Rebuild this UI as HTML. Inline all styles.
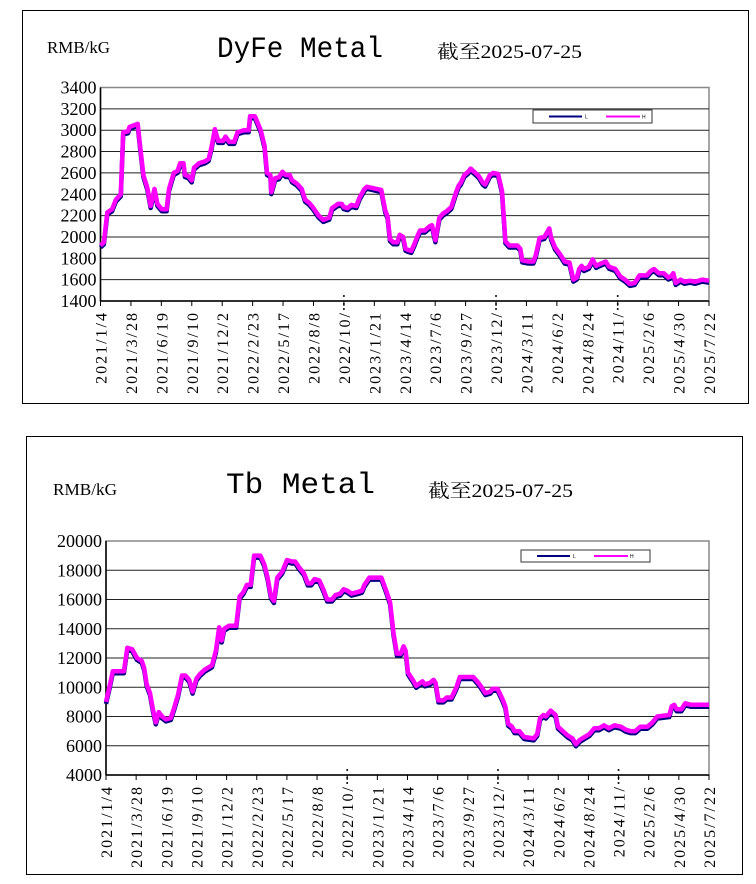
<!DOCTYPE html>
<html><head><meta charset="utf-8"><style>
html,body{margin:0;padding:0;background:#fff;width:756px;height:884px;overflow:hidden}
svg{display:block}
</style></head><body>
<svg id="s" width="756" height="884" xmlns="http://www.w3.org/2000/svg">
<rect x="0" y="0" width="756" height="884" fill="#fff"/>
<rect x="22.5" y="10.5" width="726" height="393" fill="#fff" stroke="#000" stroke-width="1"/>
<rect x="26.5" y="436.5" width="716" height="438" fill="#fff" stroke="#000" stroke-width="1"/>
<text x="47" y="53" font-family="Liberation Serif, serif" font-size="17" textLength="63" lengthAdjust="spacingAndGlyphs">RMB/kG</text>
<text x="217" y="57" font-family="Liberation Mono, monospace" font-size="30" textLength="166" lengthAdjust="spacingAndGlyphs">DyFe Metal</text>
<text x="437" y="58" font-family="Liberation Serif, 'Noto Serif CJK SC', serif" font-size="19" textLength="145" lengthAdjust="spacingAndGlyphs">截至2025-07-25</text>
<text x="53" y="495" font-family="Liberation Serif, serif" font-size="17" textLength="64" lengthAdjust="spacingAndGlyphs">RMB/kG</text>
<text x="226" y="493" font-family="Liberation Mono, monospace" font-size="30" textLength="149" lengthAdjust="spacingAndGlyphs">Tb Metal</text>
<text x="428" y="497" font-family="Liberation Serif, 'Noto Serif CJK SC', serif" font-size="19" textLength="145" lengthAdjust="spacingAndGlyphs">截至2025-07-25</text>
<g id="c1"></g><g id="c2"></g>
</svg>
<script>
var NS="http://www.w3.org/2000/svg";
var labels=["2021/1/4","2021/3/28","2021/6/19","2021/9/10","2021/12/2","2022/2/23","2022/5/17","2022/8/8","2022/10/","2023/1/21","2023/4/14","2023/7/6","2023/9/27","2023/12/","2024/3/11","2024/6/2","2024/8/24","2024/11/","2025/2/6","2025/4/30","2025/7/22"];
function el(p,t,a,txt){var e=document.createElementNS(NS,t);for(var k in a)e.setAttribute(k,a[k]);if(txt)e.textContent=txt;p.appendChild(e);return e;}
function chart(g,c){
 var x0=c.x0,x1=c.x1,yt=c.yt,yb=c.yb;
 function Y(v){return yb-(v-c.vmin)/(c.vmax-c.vmin)*(yb-yt);}
 el(g,"rect",{x:x0,y:yt,width:x1-x0,height:yb-yt,fill:"#fff",stroke:"#888","stroke-width":1.5});
 for(var v=c.vmin;v<=c.vmax;v+=c.step){var y=Y(v);
  if(v>c.vmin&&v<c.vmax)el(g,"line",{x1:x0,y1:y,x2:x1,y2:y,stroke:"#222","stroke-width":1});
  el(g,"text",{x:x0-4,y:y+6,"text-anchor":"end","font-family":"Liberation Serif, serif","font-size":18},String(v));}
 el(g,"line",{x1:x0,y1:yb,x2:x1,y2:yb,stroke:"#000","stroke-width":1.5});
 el(g,"line",{x1:x0,y1:yt,x2:x0,y2:yb,stroke:"#000","stroke-width":1.5});
 var dx=(x1-x0)/20;
 for(var i=0;i<=20;i++){var x=x0+i*dx;
  el(g,"line",{x1:x,y1:yb,x2:x,y2:yb+5,stroke:"#000"});
  if(i==8||i==13||i==17){el(g,"circle",{cx:x,cy:yb-5,r:1,fill:"#000"});el(g,"circle",{cx:x,cy:yb+3,r:1,fill:"#000"});el(g,"circle",{cx:x,cy:yb+8,r:1,fill:"#000"});}
  el(g,"text",{x:0,y:0,"text-anchor":"end","font-family":"Liberation Serif, serif","font-size":16,"letter-spacing":"2",transform:"translate("+(x+6)+","+(yb+10)+") rotate(-90)"},labels[i]);}
 var L=c.leg;
 el(g,"rect",{x:L[0],y:L[1],width:L[2],height:L[3],fill:"#fff",stroke:"#333","stroke-width":1});
 var my=L[1]+L[3]/2;
 el(g,"line",{x1:L[0]+16,y1:my,x2:L[0]+49,y2:my,stroke:"#000080","stroke-width":2});
 el(g,"text",{x:L[0]+52,y:my+2,"font-size":5,"font-family":"Liberation Sans, sans-serif"},"L");
 el(g,"line",{x1:L[0]+73,y1:my,x2:L[0]+107,y2:my,stroke:"#ff00ff","stroke-width":2});
 el(g,"text",{x:L[0]+109,y:my+2,"font-size":5,"font-family":"Liberation Sans, sans-serif"},"H");
 var d=c.data,pts=[];
 for(var j=0;j<d.length;j+=2){var xi=(d[j]-c.z0)/(c.z1-c.z0)*20;pts.push((x0+xi*dx).toFixed(1)+","+Y(d[j+1]).toFixed(1));}
 var ps=pts.join(" ");
 el(g,"polyline",{points:ps,fill:"none",stroke:"#000080","stroke-width":4.5,"stroke-linejoin":"round",transform:"translate(0,2)"});
 el(g,"polyline",{points:ps,fill:"none",stroke:"#ff00ff","stroke-width":4.5,"stroke-linejoin":"round"});
}
chart(document.getElementById("c1"),{x0:100.5,x1:709,yt:87.5,yb:301,vmin:1400,vmax:3400,step:200,leg:[533,110,119,13],z0:208,z1:1469,
data:[208,1920,215,1950,222,2230,232,2260,240,2350,250,2400,255,2980,265,2990,268,3030,285,3060,290,2850,297,2580,305,2460,312,2290,320,2450,326,2310,335,2260,345,2260,350,2450,360,2600,368,2620,373,2690,380,2690,383,2580,390,2570,397,2530,402,2650,412,2690,425,2710,432,2730,438,2840,445,3010,452,2900,462,2900,467,2940,475,2890,485,2890,492,2980,505,3000,515,3000,518,3130,528,3130,540,3000,548,2850,553,2600,560,2580,562,2420,570,2550,578,2560,585,2610,592,2580,600,2580,605,2530,615,2500,625,2450,632,2350,640,2320,648,2280,660,2200,670,2160,682,2180,688,2270,700,2310,708,2310,712,2280,720,2270,728,2300,738,2290,745,2370,755,2450,760,2470,770,2460,780,2450,790,2440,798,2250,803,2190,808,1980,815,1950,823,1950,828,2020,835,2000,840,1890,845,1880,852,1870,858,1930,865,2010,870,2060,880,2060,890,2100,895,2110,902,1970,910,2180,918,2220,925,2240,935,2280,945,2420,950,2480,955,2510,962,2580,970,2610,975,2640,985,2600,992,2570,1000,2510,1005,2490,1015,2580,1022,2600,1032,2590,1040,2430,1047,1960,1055,1920,1072,1920,1078,1890,1082,1780,1095,1770,1105,1770,1110,1830,1118,1990,1128,2000,1138,2080,1142,1990,1150,1900,1160,1840,1170,1770,1180,1760,1188,1600,1195,1620,1200,1700,1205,1730,1210,1700,1220,1720,1228,1790,1235,1730,1245,1750,1255,1770,1262,1720,1275,1700,1285,1630,1295,1600,1305,1560,1315,1570,1325,1640,1340,1640,1348,1680,1355,1700,1365,1660,1375,1660,1385,1620,1390,1630,1395,1660,1400,1570,1410,1600,1418,1580,1430,1590,1440,1580,1455,1600,1469,1590]});
chart(document.getElementById("c2"),{x0:106,x1:709,yt:541,yb:775,vmin:4000,vmax:20000,step:2000,leg:[521,550,129,12],z0:221,z1:1467,
data:[221,9000,228,10000,235,11100,258,11100,265,12700,275,12600,285,12000,295,11800,300,11300,305,10200,312,9600,318,8500,324,7600,330,8300,337,8000,345,7800,355,7900,362,8600,370,9500,378,10800,385,10800,393,10500,400,9700,408,10600,415,10900,425,11200,440,11500,448,12500,455,14100,460,13200,465,14000,475,14200,490,14200,497,16200,505,16500,512,17000,520,17000,527,19000,540,19000,548,18400,555,17500,562,16200,568,15900,575,17500,585,17900,595,18700,605,18600,612,18600,620,18200,630,17800,638,17100,645,17100,652,17400,662,17300,670,16700,678,16000,688,16000,695,16300,705,16400,712,16700,720,16600,728,16400,740,16500,750,16600,755,17000,765,17500,790,17500,800,16600,808,15800,815,13700,822,12300,830,12300,836,12800,840,12500,845,11000,855,10500,862,10100,875,10400,880,10200,890,10300,898,10500,902,10300,908,9100,918,9100,925,9300,935,9300,945,10000,952,10700,980,10700,988,10400,995,10100,1005,9600,1015,9700,1020,9900,1030,9900,1040,9200,1046,8700,1052,7500,1060,7300,1065,7000,1075,7000,1085,6600,1105,6500,1112,6800,1118,7900,1125,8100,1130,8000,1140,8400,1150,8100,1155,7300,1165,7000,1175,6700,1185,6500,1192,6100,1200,6400,1210,6600,1220,6800,1230,7200,1240,7200,1250,7400,1260,7200,1272,7400,1285,7300,1295,7100,1305,7000,1315,7000,1325,7300,1340,7300,1350,7600,1360,8000,1385,8100,1390,8700,1395,8800,1400,8500,1410,8500,1418,8900,1430,8800,1467,8800]});
</script>
</body></html>
